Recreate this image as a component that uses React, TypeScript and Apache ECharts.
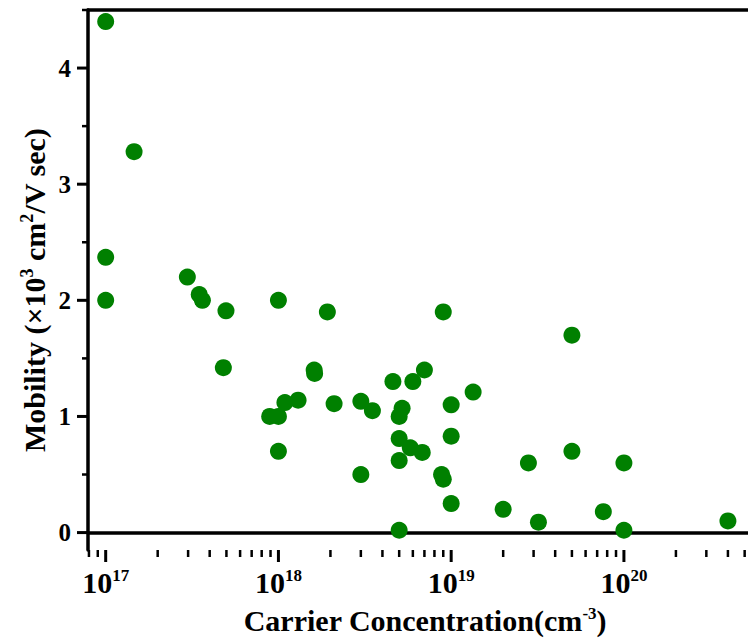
import React, { useEffect, useRef } from "react";
import * as echarts from "echarts";

// Carrier concentration (cm^-3)
const concentration = [
  1e17, 1.46e17, 1e17, 1e17, 2.97e17, 3.48e17, 3.63e17, 4.97e17, 4.8e17,
  1e18, 1e18, 8.9e17, 1.0e18, 1.09e18, 1.3e18, 1.61e18, 1.62e18, 1.92e18,
  2.1e18, 3.0e18, 3.0e18, 3.5e18, 4.6e18, 6.0e18, 7.0e18, 9.0e18, 5.2e18,
  5.0e18, 5.0e18, 5.8e18, 6.8e18, 5.0e18, 5.0e18, 8.8e18, 9.0e18, 1e19,
  1e19, 1e19, 1.34e19, 2.0e19, 2.8e19, 3.2e19, 5e19, 5e19, 7.6e19, 1e20,
  1e20, 4.0e20,
];
// Mobility (x10^3 cm^2/V sec)
const mobility = [
  4.4, 3.28, 2.37, 2.0, 2.2, 2.05, 2.0, 1.91, 1.42,
  2.0, 0.7, 1.0, 1.0, 1.12, 1.14, 1.4, 1.37, 1.9,
  1.11, 1.13, 0.5, 1.05, 1.3, 1.3, 1.4, 1.9, 1.07,
  1.0, 0.81, 0.73, 0.69, 0.62, 0.02, 0.5, 0.46, 1.1,
  0.83, 0.25, 1.21, 0.2, 0.6, 0.09, 1.7, 0.7, 0.18, 0.6,
  0.02, 0.1,
];

const xMin = 7.9e16;
const xMax = 6.3e20;
const yMin = -0.15;
const yMax = 4.5;

const xMajorTicks = [1e17, 1e18, 1e19, 1e20];
const xMinorTicks = [
  8e16, 9e16,
  2e17, 3e17, 4e17, 5e17, 6e17, 7e17, 8e17, 9e17,
  2e18, 3e18, 4e18, 5e18, 6e18, 7e18, 8e18, 9e18,
  2e19, 3e19, 4e19, 5e19, 6e19, 7e19, 8e19, 9e19,
  2e20, 3e20, 4e20, 5e20, 6e20,
];
const yMajorTicks = [0, 1, 2, 3, 4];
const yMinorTicks = [0.5, 1.5, 2.5, 3.5, 4.5];

const FONT = "'Liberation Serif', 'Times New Roman', serif";

export default function App() {
  const ref = useRef<HTMLDivElement>(null);

  useEffect(() => {
    document.body.style.margin = "0";
    document.body.style.overflow = "hidden";
    const chart = echarts.init(ref.current!, null, { renderer: "svg" });

    const points = concentration.map((c, i) => [c, mobility[i]]);
    const xTickData = [
      ...xMajorTicks.map((v) => [v, yMin, 1]),
      ...xMinorTicks.map((v) => [v, yMin, 0]),
    ];
    const yTickData = [
      ...yMajorTicks.map((v) => [xMin, v, 1]),
      ...yMinorTicks.map((v) => [xMin, v, 0]),
    ];

    const supStyle = {
      fontFamily: FONT,
      fontWeight: "bold",
      fontSize: 17,
      color: "#000",
      padding: [0, 0, 14, 0],
    };

    const option: any = {
      animation: false,
      backgroundColor: "#fff",
      grid: { left: 88, top: 10, bottom: 93, right: 38, containLabel: false },
      graphic: [
        {
          type: "text",
          x: 34,
          y: 290,
          rotation: Math.PI / 2,
          style: {
            text: "Mobility (×10{s|3} cm{s|2}/V sec)",
            align: "center",
            verticalAlign: "middle",
            fontFamily: FONT,
            fontWeight: "bold",
            fontSize: 30,
            fill: "#000",
            rich: {
              s: { ...supStyle, fontSize: 18, fill: "#000" },
            },
          },
        },
      ],
      xAxis: [
        {
          type: "log",
          logBase: 10,
          min: xMin,
          max: xMax,
          position: "bottom",
          splitLine: { show: false },
          axisTick: { show: false },
          axisLine: { lineStyle: { color: "#000", width: 3.5 } },
          axisLabel: {
            margin: 17,
            color: "#000",
            formatter: (v: number) => {
              const e = Math.log10(v);
              if (Math.abs(e - Math.round(e)) > 1e-6) return "";
              return `{b|10}{s|${Math.round(e)}}`;
            },
            rich: {
              b: { fontFamily: FONT, fontWeight: "bold", fontSize: 30, color: "#000" },
              s: supStyle,
            },
          },
          name: "Carrier Concentration(cm{s|-3})",
          nameLocation: "middle",
          nameGap: 55,
          nameTextStyle: {
            fontFamily: FONT,
            fontWeight: "bold",
            fontSize: 30,
            color: "#000",
            rich: { s: supStyle },
          },
        },
        {
          type: "log",
          logBase: 10,
          min: xMin,
          max: xMax,
          position: "top",
          splitLine: { show: false },
          axisTick: { show: false },
          axisLabel: { show: false },
          axisLine: { lineStyle: { color: "#000", width: 3.5 } },
        },
      ],
      yAxis: {
        type: "value",
        min: yMin,
        max: yMax,
        splitLine: { show: false },
        axisTick: { show: false },
        axisLine: { lineStyle: { color: "#000", width: 3.5 } },
        axisLabel: {
          margin: 17,
          color: "#000",
          fontFamily: FONT,
          fontWeight: "bold",
          fontSize: 25,
          formatter: (v: number) =>
            Math.abs(v - Math.round(v)) < 1e-6 && v >= 0 && v <= 4 ? String(Math.round(v)) : "",
        },
      },
      series: [
        {
          type: "scatter",
          data: points,
          symbol: "circle",
          symbolSize: 17,
          itemStyle: { color: "#008000", opacity: 1 },
          silent: true,
        },
        {
          type: "custom",
          silent: true,
          data: xTickData,
          encode: { x: 0, y: 1 },
          renderItem: (params: any, api: any) => {
            const v = api.value(0);
            const major = api.value(2) === 1;
            const cs = params.coordSys;
            const px = api.coord([v, 1])[0];
            const bottom = cs.y + cs.height;
            return {
              type: "line",
              shape: { x1: px, y1: bottom, x2: px, y2: bottom + (major ? 12 : 7) },
              style: { stroke: "#000", lineWidth: major ? 3 : 2.5 },
            };
          },
        },
        {
          type: "custom",
          silent: true,
          data: yTickData,
          encode: { x: 0, y: 1 },
          renderItem: (params: any, api: any) => {
            const v = api.value(1);
            const major = api.value(2) === 1;
            const cs = params.coordSys;
            const py = api.coord([1e18, v])[1];
            const left = cs.x;
            return {
              type: "line",
              shape: { x1: left, y1: py, x2: left - (major ? 11 : 6), y2: py },
              style: { stroke: "#000", lineWidth: major ? 3 : 2.5 },
            };
          },
        },
      ],
    };

    chart.setOption(option);
    return () => chart.dispose();
  }, []);

  return <div ref={ref} style={{ width: 800, height: 643 }} />;
}
